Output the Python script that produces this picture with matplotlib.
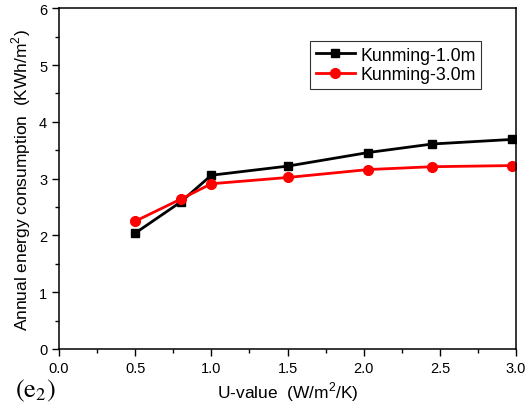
import matplotlib

matplotlib.use("Agg")
import matplotlib.pyplot as plt
from matplotlib.ticker import MultipleLocator

plt.rcParams["font.family"] = ["Liberation Sans", "DejaVu Sans"]
plt.rcParams["mathtext.fontset"] = "custom"
plt.rcParams["mathtext.rm"] = "Liberation Sans"

# U-value (W/m2/K) and annual energy consumption (KWh/m2)
u_values = [0.5, 0.8, 1.0, 1.5, 2.03, 2.45, 2.97]
kunming_1m = [2.04, 2.59, 3.06, 3.22, 3.46, 3.61, 3.69]
kunming_3m = [2.25, 2.64, 2.91, 3.02, 3.16, 3.21, 3.23]

fig = plt.figure(figsize=(5.31, 4.14), dpi=100)
ax = fig.add_axes([0.111, 0.1546, 0.861, 0.823])

ax.plot(u_values, kunming_1m, color="black", marker="s", markersize=6,
        linewidth=2, label="Kunming-1.0m")
ax.plot(u_values, kunming_3m, color="#ff0000", marker="o", markersize=7,
        linewidth=2, label="Kunming-3.0m")

ax.set_xlim(0, 3.0)
ax.set_ylim(0, 6)
ax.xaxis.set_major_locator(MultipleLocator(0.5))
ax.xaxis.set_minor_locator(MultipleLocator(0.25))
ax.yaxis.set_major_locator(MultipleLocator(1))
ax.yaxis.set_minor_locator(MultipleLocator(0.5))
ax.xaxis.set_major_formatter(plt.FuncFormatter(lambda v, p: f"{v:.1f}"))

ax.tick_params(which="major", direction="out", length=5, width=1,
               labelsize=10.5, colors="black")
ax.tick_params(which="minor", direction="out", length=3, width=1)
for spine in ax.spines.values():
    spine.set_linewidth(1.1)

ax.set_xlabel("U-value  (W/m$^2$/K)", fontsize=12.5, labelpad=3)
ax.set_ylabel("Annual energy consumption  (KWh/m$^2$)", fontsize=12.5,
              labelpad=4)

leg = ax.legend(loc="upper right", bbox_to_anchor=(0.923, 0.903),
                fontsize=12.8, numpoints=1, frameon=True, fancybox=False,
                handlelength=2.2, borderpad=0.3, labelspacing=0.15,
                handletextpad=0.3, borderaxespad=0)
leg.get_frame().set_edgecolor("black")
leg.get_frame().set_linewidth(0.8)

fig.text(0.028, 0.04, r"$\mathrm{(e_2)}$", fontsize=19,
         math_fontfamily="stix")

fig.savefig("out.png", dpi=100)
